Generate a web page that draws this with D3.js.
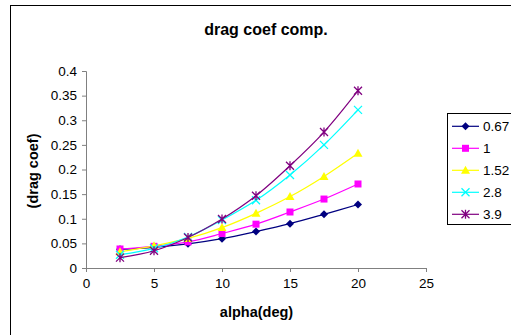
<!DOCTYPE html>
<html><head><meta charset="utf-8">
<script src="https://cdn.jsdelivr.net/npm/d3@7"></script>
<style>body{margin:0;background:#fff}svg{display:block;font-family:"Liberation Sans",Arial,sans-serif}</style>
</head><body>
<svg id="c" width="511" height="335"></svg>
<script>
const alpha = [2.5, 5, 7.5, 10, 12.5, 15, 17.5, 20];
const seriesNames = ["0.67", "1", "1.52", "2.8", "3.9"];
const s067 = [0.038, 0.042, 0.049, 0.0595, 0.074, 0.090, 0.109, 0.129];
const s1   = [0.0386, 0.044, 0.053, 0.070, 0.089, 0.1137, 0.140, 0.1706];
const s152 = [0.033, 0.045, 0.060, 0.082, 0.111, 0.145, 0.186, 0.233];
const s28  = [0.027, 0.040, 0.063, 0.0975, 0.1375, 0.189, 0.250, 0.321];
const s39  = [0.021, 0.035, 0.062, 0.0995, 0.1468, 0.2077, 0.276, 0.360];
const xTicks = [0, 5, 10, 15, 20, 25];
const yTicks = [0, 0.05, 0.1, 0.15, 0.2, 0.25, 0.3, 0.35, 0.4];
const colors = ["#000080", "#FF00FF", "#FFFF00", "#00FFFF", "#800080"];
const markers = ["diamond", "square", "triangle", "x", "star"];
const allSeries = [s067, s1, s152, s28, s39];

const svg = d3.select("#c");
svg.append("rect").attr("x", 10.5).attr("y", 5.5).attr("width", 520).attr("height", 340)
  .attr("fill", "none").attr("stroke", "#000").attr("stroke-width", 1);

const x = d3.scaleLinear().domain([0, 25]).range([86, 426]);
const y = d3.scaleLinear().domain([0, 0.4]).range([268, 71]);

const xa = svg.append("g").attr("transform", "translate(0,268)")
  .call(d3.axisBottom(x).tickValues(xTicks).tickSize(4).tickPadding(6).tickFormat(d3.format("d")));
const ya = svg.append("g").attr("transform", "translate(86,0)")
  .call(d3.axisLeft(y).tickValues(yTicks).tickSize(4).tickPadding(5).tickFormat(d => d === 0 ? "0" : String(d)));
[xa, ya].forEach(a => {
  a.selectAll("path,line").attr("stroke", "#808080");
  a.selectAll("text").attr("font-size", 13.5).attr("fill", "#000").attr("font-family", '"Liberation Sans",Arial,sans-serif');
});

svg.append("text").attr("x", 266).attr("y", 35).attr("text-anchor", "middle")
  .attr("font-weight", "bold").attr("font-size", 16).text("drag coef comp.");
svg.append("text").attr("x", 256.5).attr("y", 317).attr("text-anchor", "middle")
  .attr("font-weight", "bold").attr("font-size", 14.5).text("alpha(deg)");
svg.append("text").attr("transform", "translate(38,171) rotate(-90)").attr("text-anchor", "middle")
  .attr("font-weight", "bold").attr("font-size", 14.5).text("(drag coef)");

function drawMarker(g, type, cx, cy, color) {
  if (type === "diamond") {
    g.append("path").attr("d", `M${cx},${cy-4}L${cx+4},${cy}L${cx},${cy+4}L${cx-4},${cy}Z`).attr("fill", color);
  } else if (type === "square") {
    g.append("rect").attr("x", cx-3.5).attr("y", cy-3.5).attr("width", 7).attr("height", 7).attr("fill", color);
  } else if (type === "triangle") {
    g.append("path").attr("d", `M${cx},${cy-4.5}L${cx+4.5},${cy+3.5}L${cx-4.5},${cy+3.5}Z`).attr("fill", color);
  } else if (type === "x") {
    g.append("path").attr("d", `M${cx-4},${cy-4}L${cx+4},${cy+4}M${cx+4},${cy-4}L${cx-4},${cy+4}`)
      .attr("stroke", color).attr("stroke-width", 1.3).attr("fill", "none");
  } else {
    g.append("path").attr("d", `M${cx-4},${cy-4}L${cx+4},${cy+4}M${cx+4},${cy-4}L${cx-4},${cy+4}M${cx},${cy-4.5}L${cx},${cy+4.5}`)
      .attr("stroke", color).attr("stroke-width", 1.3).attr("fill", "none");
  }
}

const line = d3.line().x(d => x(d[0])).y(d => y(d[1])).curve(d3.curveCatmullRom.alpha(0.5));
allSeries.forEach((vals, i) => {
  const pts = alpha.map((a, j) => [a, vals[j]]);
  const g = svg.append("g");
  g.append("path").attr("d", line(pts)).attr("fill", "none").attr("stroke", colors[i]).attr("stroke-width", 1.2);
  pts.forEach(p => drawMarker(g, markers[i], x(p[0]), y(p[1]), colors[i]));
});

const lg = svg.append("g");
lg.append("rect").attr("x", 447.5).attr("y", 113.5).attr("width", 80).attr("height", 111)
  .attr("fill", "#fff").attr("stroke", "#000").attr("stroke-width", 1);
seriesNames.forEach((n, i) => {
  const ly = 126.3 + i * 22;
  lg.append("line").attr("x1", 452).attr("x2", 479).attr("y1", ly).attr("y2", ly)
    .attr("stroke", colors[i]).attr("stroke-width", 1.2);
  drawMarker(lg, markers[i], 465.5, ly, colors[i]);
  lg.append("text").attr("x", 483).attr("y", ly + 5).attr("font-size", 13.5).text(n);
});
</script>
</body></html>
